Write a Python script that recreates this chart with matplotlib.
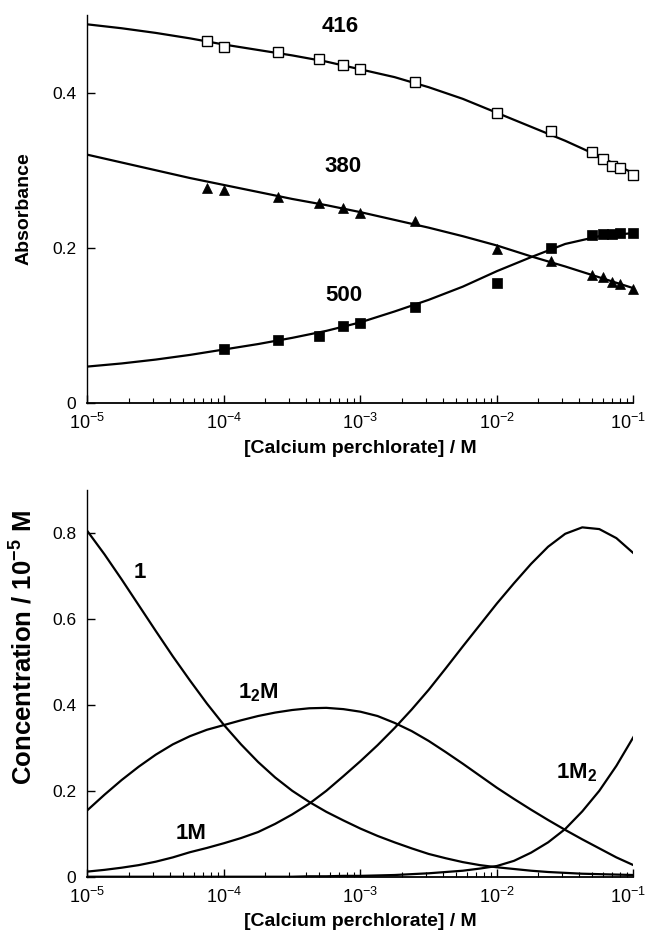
import matplotlib
matplotlib.use("Agg")
import matplotlib.pyplot as plt
from matplotlib.ticker import FuncFormatter, LogLocator
from matplotlib.transforms import ScaledTranslation

plt.rcParams['font.family'] = ['Liberation Sans', 'DejaVu Sans']
plt.rcParams['mathtext.fontset'] = 'custom'
plt.rcParams['mathtext.rm'] = 'Liberation Sans'
plt.rcParams['mathtext.bf'] = 'Liberation Sans:bold'
plt.rcParams['mathtext.default'] = 'regular'

# ---- top panel: absorbance data (markers) ----
conc = [7.5e-5, 1e-4, 2.5e-4, 5e-4, 7.5e-4, 1e-3, 2.5e-3, 1e-2, 2.5e-2,
        5e-2, 6e-2, 7e-2, 8e-2, 1e-1]
abs416 = [0.466, 0.459, 0.452, 0.444, 0.436, 0.430, 0.414, 0.374, 0.350,
          0.324, 0.315, 0.306, 0.303, 0.294]
abs380 = [0.277, 0.275, 0.265, 0.258, 0.251, 0.245, 0.234, 0.199, 0.183,
          0.165, 0.162, 0.156, 0.154, 0.147]
conc500 = conc[1:]
abs500 = [0.070, 0.081, 0.087, 0.099, 0.103, 0.124, 0.155, 0.200,
          0.216, 0.218, 0.218, 0.219, 0.219]

# fitted curves (x given as log10 of concentration)
fit_log = [-5, -4.75, -4.5, -4.25, -4, -3.75, -3.5, -3.25, -3, -2.75, -2.5,
           -2.25, -2, -1.75, -1.5, -1.25, -1]
fit416 = [0.488, 0.483, 0.477, 0.470, 0.462, 0.455, 0.448, 0.440, 0.430,
          0.420, 0.407, 0.392, 0.374, 0.356, 0.338, 0.318, 0.296]
fit380 = [0.320, 0.310, 0.300, 0.290, 0.281, 0.272, 0.263, 0.255, 0.246,
          0.236, 0.226, 0.215, 0.203, 0.189, 0.176, 0.162, 0.148]
fit500 = [0.047, 0.051, 0.056, 0.062, 0.069, 0.076, 0.084, 0.093, 0.104,
          0.118, 0.133, 0.150, 0.170, 0.188, 0.205, 0.215, 0.219]

# ---- bottom panel: species distribution ----
sp_log = [-5, -4.875, -4.75, -4.625, -4.5, -4.375, -4.25, -4.125, -4,
          -3.875, -3.75, -3.625, -3.5, -3.375, -3.25, -3.125, -3,
          -2.875, -2.75, -2.625, -2.5, -2.375, -2.25, -2.125, -2,
          -1.875, -1.75, -1.625, -1.5, -1.375, -1.25, -1.125, -1]
sp_1 = [0.804, 0.750, 0.692, 0.632, 0.572, 0.513, 0.457, 0.403, 0.353,
        0.308, 0.267, 0.231, 0.200, 0.174, 0.151, 0.131, 0.112,
        0.095, 0.080, 0.066, 0.053, 0.043, 0.034, 0.027, 0.022,
        0.018, 0.014, 0.011, 0.009, 0.007, 0.006, 0.005, 0.004]
sp_12M = [0.155, 0.191, 0.225, 0.256, 0.284, 0.308, 0.327, 0.342, 0.353,
          0.364, 0.374, 0.382, 0.388, 0.392, 0.393, 0.390, 0.384,
          0.374, 0.358, 0.339, 0.316, 0.290, 0.263, 0.235, 0.207,
          0.181, 0.156, 0.132, 0.109, 0.087, 0.066, 0.045, 0.027]
sp_1M = [0.012, 0.016, 0.021, 0.027, 0.035, 0.045, 0.057, 0.067, 0.078,
         0.090, 0.104, 0.123, 0.145, 0.170, 0.200, 0.234, 0.269,
         0.306, 0.346, 0.389, 0.435, 0.485, 0.536, 0.586, 0.636,
         0.683, 0.728, 0.768, 0.798, 0.813, 0.809, 0.788, 0.753]
sp_1M2 = [0.0, 0.0, 0.0, 0.0, 0.0, 0.0, 0.0, 0.0, 0.0,
          0.0, 0.0, 0.0, 0.0, 0.001, 0.001, 0.002, 0.002,
          0.003, 0.004, 0.006, 0.008, 0.011, 0.014, 0.019, 0.025,
          0.037, 0.056, 0.080, 0.111, 0.152, 0.200, 0.258, 0.325]

fit_x = [10.0 ** e for e in fit_log]
sp_x = [10.0 ** e for e in sp_log]

fig = plt.figure(figsize=(6.51, 9.41), dpi=100)
ax1 = fig.add_axes([0.1344, 0.5717, 0.8386, 0.4123])
ax2 = fig.add_axes([0.1344, 0.0683, 0.8386, 0.4110])

lw = 1.6
for y in (fit416, fit380, fit500):
    ax1.plot(fit_x, y, color='black', lw=lw, solid_joinstyle='round')
ax1.plot(conc, abs416, 's', ms=7.5, mfc='white', mec='black', mew=1.0, clip_on=False)
ax1.plot(conc, abs380, '^', ms=7.5, mfc='black', mec='black', mew=0.5, clip_on=False)
ax1.plot(conc500, abs500, 's', ms=7.5, mfc='black', mec='black', mew=0.5, clip_on=False)
ax1.text(10**-3.15, 0.485, '416', fontsize=16, fontweight='bold', ha='center', va='center')
ax1.text(10**-3.13, 0.305, '380', fontsize=16, fontweight='bold', ha='center', va='center')
ax1.text(10**-3.12, 0.139, '500', fontsize=16, fontweight='bold', ha='center', va='center')
ax1.set_ylim(0, 0.5)
ax1.set_yticks([0, 0.2, 0.4])
ax1.set_ylabel('Absorbance', fontsize=14, fontweight='bold')

for y in (sp_1, sp_12M, sp_1M, sp_1M2):
    ax2.plot(sp_x, y, color='black', lw=lw, solid_joinstyle='round')
ax2.text(10**-4.62, 0.707, '1', fontsize=16, fontweight='bold', ha='center', va='center')
ax2.text(10**-3.75, 0.428, '$\\mathbf{1_2M}$', fontsize=16, ha='center', va='center')
ax2.text(10**-4.24, 0.101, '1M', fontsize=16, fontweight='bold', ha='center', va='center')
ax2.text(10**-1.42, 0.241, '$\\mathbf{1M_2}$', fontsize=16, ha='center', va='center')
ax2.set_ylim(0, 0.9)
ax2.set_yticks([0, 0.2, 0.4, 0.6, 0.8])
ax2.set_ylabel('Concentration / 10$^{\\mathbf{-5}}$ M', fontsize=18.5, fontweight='bold')

fmt = FuncFormatter(lambda v, p: '0' if v == 0 else f'{v:.1f}')
for ax in (ax1, ax2):
    ax.set_xscale('log')
    ax.set_xlim(1e-5, 1e-1)
    ax.set_xticks([1e-5, 1e-4, 1e-3, 1e-2, 1e-1])
    ax.xaxis.set_minor_locator(LogLocator(base=10, subs=range(2, 10), numticks=20))
    ax.yaxis.set_major_formatter(fmt)
    ax.spines['top'].set_visible(False)
    ax.spines['right'].set_visible(False)
    ax.spines['left'].set_linewidth(1.0)
    ax.spines['bottom'].set_linewidth(1.3)
    ax.tick_params(which='major', direction='in', length=6, width=1.0)
    ax.tick_params(axis='x', which='major', pad=7, labelsize=13)
    ax.tick_params(axis='y', which='major', pad=8, labelsize=12.5)
    ax.tick_params(which='minor', direction='in', length=3.5, width=0.8)
    ax.set_xlabel('[Calcium perchlorate] / M', fontsize=14, fontweight='bold', labelpad=5)

ax1.yaxis.set_label_coords(-0.101, 0.5)
ax2.yaxis.set_label_coords(-0.093, 0.594)

# nudge the 10^-1 label left so it stays inside the figure
fig.canvas.draw()
nudge = ScaledTranslation(-5 / 100, 0, fig.dpi_scale_trans)
for ax in (ax1, ax2):
    last = ax.xaxis.get_major_ticks()[-1].label1
    last.set_transform(last.get_transform() + nudge)

fig.savefig('out.png', dpi=100)
